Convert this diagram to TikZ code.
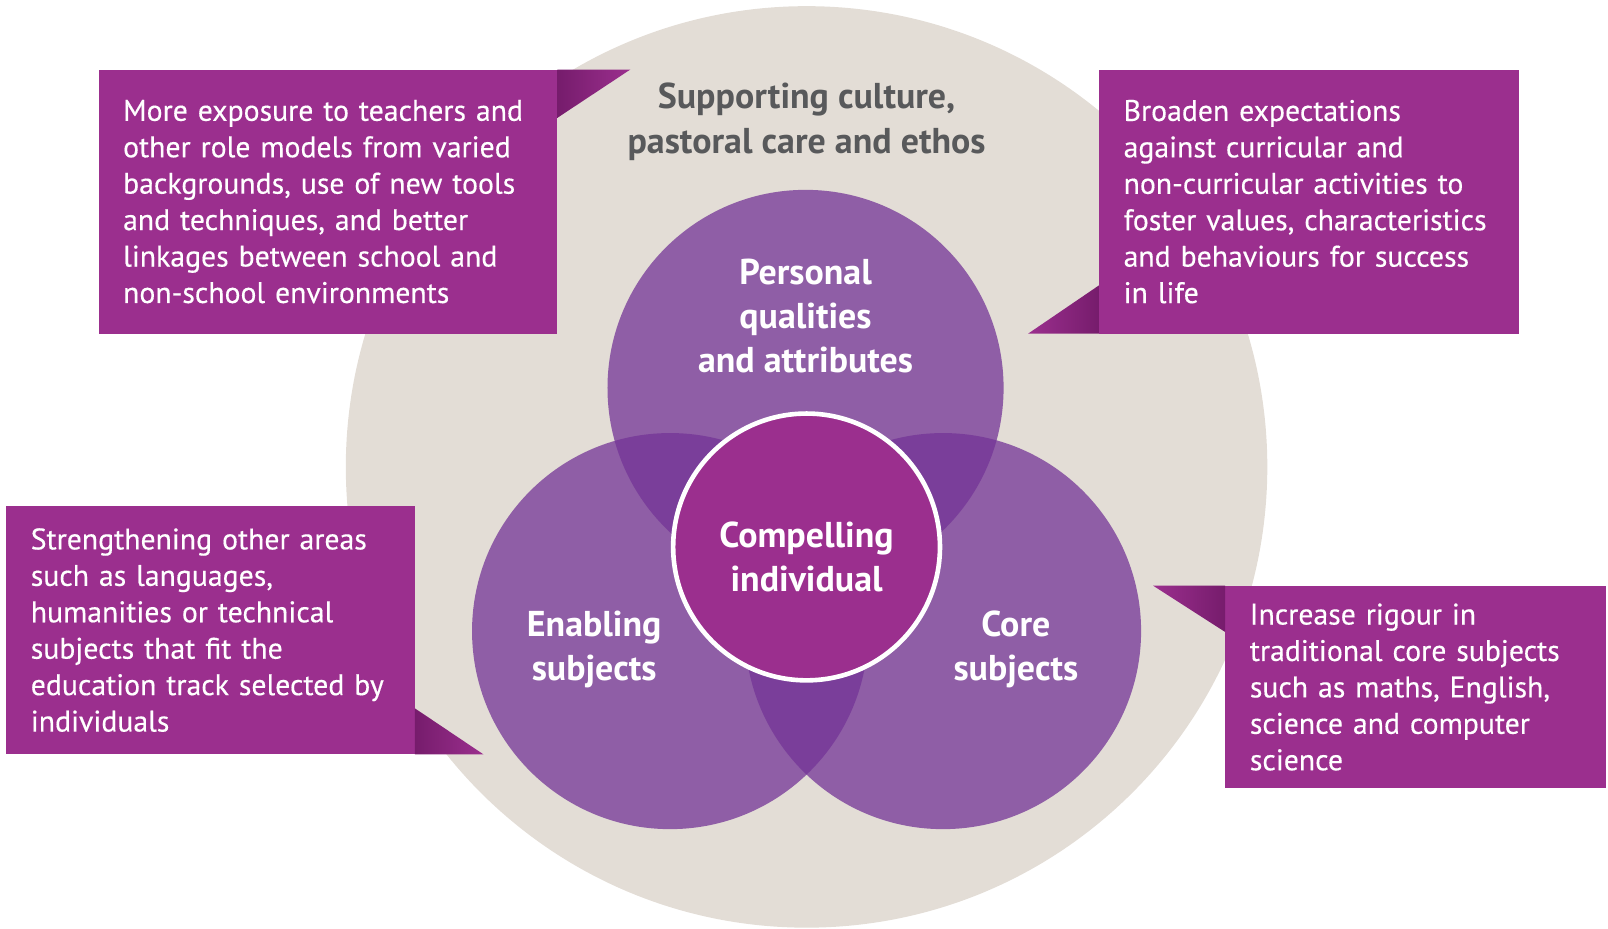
\documentclass[tikz,border=0pt]{standalone}
\usepackage{fontspec}
\setmainfont{PT Sans}
\newfontfamily\boxfont[FakeBold=0.35]{PT Sans}
\usetikzlibrary{positioning,calc}

\definecolor{beige}{RGB}{227,221,214}
\definecolor{plum}{RGB}{155,47,142}
\definecolor{plumdark}{RGB}{118,28,108}
\definecolor{lilac}{RGB}{115,52,150}
\definecolor{ink}{RGB}{88,89,91}

\begin{document}
\begin{tikzpicture}[x=1pt,y=-1pt,
                box/.style={rectangle,fill=plum,text=white,align=left,inner xsep=24pt,
                            font=\boxfont\fontsize{29}{35.5}\selectfont},
                ring/.style={fill=lilac,opacity=0.75},
                label/.style={text=white,align=center,font=\bfseries\fontsize{35}{43}\selectfont}]

\useasboundingbox (0,0) rectangle (1567,905);

\fill[beige] (786,455) circle (449pt);

% callout boxes
\node[box] (tl) [minimum width=447pt, minimum height=257pt, text width=399pt] at (319.5,196.5)
{More exposure to teachers and\\other role models from varied\\backgrounds, use of new tools\\and techniques, and better\\linkages between school and\\non-school environments};
\node[box] (tr) [minimum width=409pt, minimum height=257pt, text width=361pt] at (1275.5,196.5)
{Broaden expectations\\against curricular and\\non-curricular activities to\\foster values, characteristics\\and behaviours for success\\in life};
\node[box] (bl) [minimum width=398pt, minimum height=242pt, text width=350pt] at (205,614)
{Strengthening other areas\\such as languages,\\humanities or technical\\subjects that fit the\\education track selected by\\individuals};
\node[box] (br) [minimum width=371pt, minimum height=197pt, text width=323pt] at (1379.5,669.5)
{Increase rigour in\\traditional core subjects\\such as maths, English,\\science and computer\\science};

\shade[left color=plumdark,right color=plum] (tl.north east) -- ++(71,0) -- ++(-71,47) -- cycle;
\shade[left color=plum,right color=plumdark] (tr.south west) -- ++(-69,0) -- ++(69,-47) -- cycle;
\shade[left color=plumdark,right color=plum] (bl.south east) -- ++(67,0) -- ++(-67,-45) -- cycle;
\shade[left color=plum,right color=plumdark] (br.north west) -- ++(-70,0) -- ++(70,45) -- cycle;

\node[text=ink,align=center,font=\bfseries\fontsize{35}{44}\selectfont] (culture) at (786,119)
{Supporting culture,\\pastoral care and ethos};

% the three rings
\fill[ring] (785,378) circle (193pt);
\fill[ring] (653,615) circle (193pt);
\fill[ring] (919,615) circle (193pt);

\fill[plum] (786,533) circle (130pt);
\draw[white,line width=4.5pt] (786,533) circle (130pt);

\node[label] (personal) at (785,308) {Personal\\qualities\\and attributes};
\node[label] (self)     at (786,543) {Compelling\\individual};
\node[label] (enabling) at (579,633) {Enabling\\subjects};
\node[label] (core)     at (990,633) {Core\\subjects};
\end{tikzpicture}
\end{document}
